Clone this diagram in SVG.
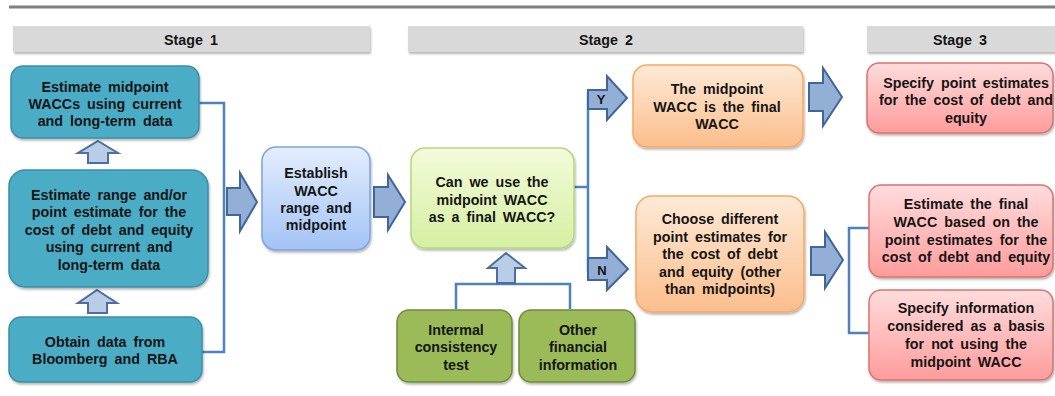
<svg xmlns="http://www.w3.org/2000/svg" width="1055" height="396" viewBox="0 0 1055 396">
<defs>
<filter id="sh" x="-10%" y="-10%" width="125%" height="130%">
<feDropShadow dx="1" dy="2" stdDeviation="1.2" flood-color="#000" flood-opacity="0.28"/>
</filter>
<linearGradient id="gBlue" x1="0" y1="0" x2="0" y2="1"><stop offset="0" stop-color="#E3EEFD"/><stop offset="1" stop-color="#A3C3F5"/></linearGradient>
<linearGradient id="gLime" x1="0" y1="0" x2="0" y2="1"><stop offset="0" stop-color="#F3FBDA"/><stop offset="1" stop-color="#D6EFA2"/></linearGradient>
<linearGradient id="gOr" x1="0" y1="0" x2="0" y2="1"><stop offset="0" stop-color="#FEEAD6"/><stop offset="1" stop-color="#FBBE8C"/></linearGradient>
<linearGradient id="gRed" x1="0" y1="0" x2="0" y2="1"><stop offset="0" stop-color="#FFDCDC"/><stop offset="1" stop-color="#FF9C9C"/></linearGradient>
</defs>
<style>
text{font-family:"Liberation Sans",Arial,sans-serif;font-weight:bold;font-size:14.3px;fill:#151515;text-anchor:middle;word-spacing:3px}
.hdr{fill:#D9D9D9}
.teal{fill:#4BACC6;stroke:#3A8EA5;stroke-width:1.5}
.blue{fill:url(#gBlue);stroke:#7EA4DA;stroke-width:1.5}
.lime{fill:url(#gLime);stroke:#B5D77E;stroke-width:1.5}
.olive{fill:#9BBB59;stroke:#6F8B3E;stroke-width:1.5}
.orange{fill:url(#gOr);stroke:#F8A866;stroke-width:1.5}
.red{fill:url(#gRed);stroke:#DD7070;stroke-width:1.5}
.big{fill:#93AFD6;stroke:#3F6599;stroke-width:2;stroke-linejoin:miter}
.up{fill:#B9CDE6;stroke:#4D6E9E;stroke-width:2}
.con{fill:none;stroke:#4F81BD;stroke-width:2.5}
.lbl{font-size:13px;word-spacing:0}
</style>
<line x1="9" y1="7" x2="1055" y2="7" stroke="#7F7F7F" stroke-width="3"/>
<g id="headers">
<rect class="hdr" x="13" y="26" width="357" height="26" filter="url(#sh)"/>
<text x="191" y="45">Stage 1</text>
<rect class="hdr" x="408" y="26" width="395" height="26" filter="url(#sh)"/>
<text x="606" y="45">Stage 2</text>
<rect class="hdr" x="867" y="26" width="190" height="26" filter="url(#sh)"/>
<text x="960" y="45">Stage 3</text>
</g>
<g id="connectors">
<polyline class="con" points="199,103 224,103 224,352 202,352"/>
<polyline class="con" points="574,187 588,187"/>
<line class="con" x1="588" y1="92" x2="588" y2="272"/>
<polyline class="con" points="456,309 456,284 570,284 570,309"/>
<polyline class="con" points="869,228 849,228 849,333 869,333"/>
<polygon class="big" points="227,188 240,188 240,173 257,202 240,231 240,215 227,215"/>
<polygon class="big" points="374,187 388,187 388,175 405,202 388,230 388,217 374,217"/>
<polygon class="big" points="588,90 607,90 607,76 627,98 607,120 607,109 588,109"/>
<text class="lbl" x="601" y="104">Y</text>
<polygon class="big" points="588,258 607,258 607,247 628,269 607,290 607,280 588,280"/>
<text class="lbl" x="602" y="275">N</text>
<polygon class="big" points="809,83 823,83 823,68 842,97 823,126 823,111 809,111"/>
<polygon class="big" points="811,247 825,247 825,232 843,260 825,288 825,275 811,275"/>
<polygon class="up" points="98,141 118,153 108,153 108,163 88,163 88,153 78,153"/>
<polygon class="up" points="97,290 117,303 107,303 107,313 88,313 88,303 78,303"/>
<polygon class="up" points="506,253 525,268 515,268 515,283 497,283 497,268 488,268"/>
</g>
<g id="n1"><rect class="teal" x="11" y="66" width="188" height="72" rx="12" filter="url(#sh)"/>
<text x="105" y="92">Estimate midpoint</text><text x="105" y="109">WACCs using current</text><text x="105" y="126">and long-term data</text></g>
<g id="n2"><rect class="teal" x="9" y="170" width="199" height="117" rx="16" filter="url(#sh)"/>
<text x="109" y="199.5">Estimate range and/or</text><text x="109" y="217">point estimate for the</text><text x="109" y="234.5">cost of debt and equity</text><text x="109" y="252">using current and</text><text x="109" y="269.5">long-term data</text></g>
<g id="n3"><rect class="teal" x="9" y="317" width="193" height="65" rx="12" filter="url(#sh)"/>
<text x="105" y="347">Obtain data from</text><text x="105" y="364">Bloomberg and RBA</text></g>
<g id="n4"><rect class="blue" x="262" y="147" width="108" height="103" rx="14" filter="url(#sh)"/>
<text x="316" y="178">Establish</text><text x="316" y="195.5">WACC</text><text x="316" y="213">range and</text><text x="316" y="230">midpoint</text></g>
<g id="n5"><rect class="lime" x="411" y="148" width="163" height="100" rx="14" filter="url(#sh)"/>
<text x="492" y="187">Can we use the</text><text x="492" y="204.5">midpoint WACC</text><text x="492" y="222">as a final WACC?</text></g>
<g id="n6"><rect class="olive" x="397" y="310" width="115" height="72" rx="12" filter="url(#sh)"/>
<text x="456" y="335">Intermal</text><text x="456" y="352">consistency</text><text x="456" y="369.5">test</text></g>
<g id="n7"><rect class="olive" x="519" y="310" width="116" height="72" rx="12" filter="url(#sh)"/>
<text x="578" y="335">Other</text><text x="578" y="352">financial</text><text x="578" y="369.5">information</text></g>
<g id="n8"><rect class="orange" x="633" y="65" width="170" height="82" rx="14" filter="url(#sh)"/>
<text x="717" y="94">The midpoint</text><text x="717" y="111.5">WACC is the final</text><text x="717" y="129">WACC</text></g>
<g id="n9"><rect class="orange" x="636" y="196" width="168" height="116" rx="16" filter="url(#sh)"/>
<text x="720" y="224">Choose different</text><text x="720" y="241.5">point estimates for</text><text x="720" y="259">the cost of debt</text><text x="720" y="276.5">and equity (other</text><text x="720" y="294">than midpoints)</text></g>
<g id="n10"><rect class="red" x="867" y="63" width="186" height="70" rx="12" filter="url(#sh)"/>
<text x="966" y="88">Specify point estimates</text><text x="966" y="105">for the cost of debt and</text><text x="966" y="122.5">equity</text></g>
<g id="n11"><rect class="red" x="869" y="185" width="184" height="92" rx="12" filter="url(#sh)"/>
<text x="966" y="209">Estimate the final</text><text x="966" y="227">WACC based on the</text><text x="966" y="244.5">point estimates for the</text><text x="966" y="262">cost of debt and equity</text></g>
<g id="n12"><rect class="red" x="869" y="290" width="184" height="90" rx="12" filter="url(#sh)"/>
<text x="966" y="313">Specify information</text><text x="966" y="331">considered as a basis</text><text x="966" y="349">for not using the</text><text x="966" y="367">midpoint WACC</text></g>
</svg>
